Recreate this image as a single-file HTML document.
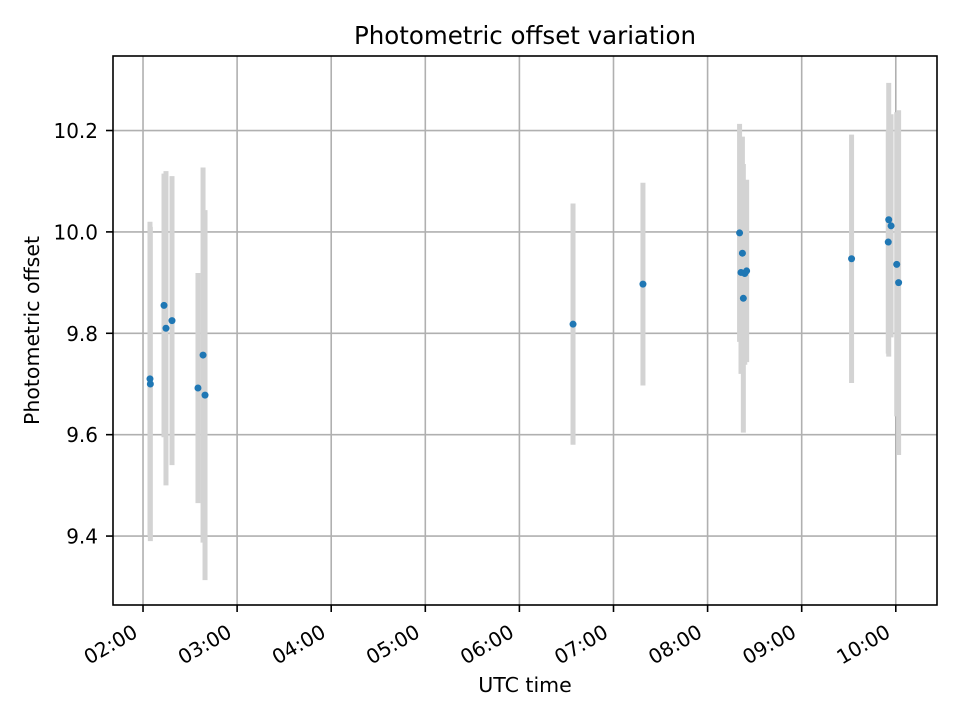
<!DOCTYPE html>
<html><head><meta charset="utf-8"><style>
body{margin:0;background:#fff;font-family:"DejaVu Sans","Liberation Sans",sans-serif}
svg text{font-family:"DejaVu Sans","Liberation Sans",sans-serif}
</style></head><body>
<svg id="c" width="960" height="720" xmlns="http://www.w3.org/2000/svg"></svg>
<script>
const times=[2.074,2.078,2.223,2.244,2.308,2.584,2.638,2.659,6.57,7.313,8.34,8.37,8.355,8.395,8.415,8.38,9.53,9.925,9.95,9.92,10.01,10.03];
const values=[9.710,9.700,9.855,9.810,9.825,9.692,9.757,9.678,9.818,9.897,9.998,9.958,9.920,9.918,9.923,9.869,9.947,10.024,10.012,9.980,9.936,9.900];
const errors=[0.31,0.31,0.26,0.31,0.285,0.227,0.37,0.365,0.238,0.2,0.215,0.23,0.2,0.18,0.18,0.265,0.245,0.27,0.22,0.22,0.3,0.34];
const xTicks=[2,3,4,5,6,7,8,9,10];
const xTickLabels=["02:00","03:00","04:00","05:00","06:00","07:00","08:00","09:00","10:00"];
const yTicks=[9.4,9.6,9.8,10.0,10.2];
const yTickLabels=["9.4","9.6","9.8","10.0","10.2"];

const L=113,R=937,T=56,B=605,x0=1.681,x1=10.438,y0=9.264,y1=10.347;
const X=v=>L+(v-x0)/(x1-x0)*(R-L);
const Y=v=>B-(v-y0)/(y1-y0)*(B-T);
const svg=document.getElementById('c');
const NS='http://www.w3.org/2000/svg';
function mk(tag,attrs,parent){const e=document.createElementNS(NS,tag);for(const k in attrs)e.setAttribute(k,attrs[k]);(parent||svg).appendChild(e);return e;}

xTicks.forEach((t,i)=>{
  const g=mk('line',{x1:X(t),x2:X(t),y1:T,y2:B,stroke:'#b0b0b0','stroke-width':1.6});
  
  
  mk('line',{x1:X(t),x2:X(t),y1:B,y2:B+7,stroke:'#000','stroke-width':1.6});
  const px=X(t)-4, py=636;
  const tx=mk('text',{x:px,y:py,'font-size':20,'text-anchor':'end',transform:`rotate(-30 ${px} ${py})`});
  tx.textContent=xTickLabels[i];
  
  
});
yTicks.forEach((t,i)=>{
  const g=mk('line',{x1:L,x2:R,y1:Y(t),y2:Y(t),stroke:'#b0b0b0','stroke-width':1.6});
  
  
  mk('line',{x1:L-7,x2:L,y1:Y(t),y2:Y(t),stroke:'#000','stroke-width':1.6});
  const tx=mk('text',{x:L-15,y:Y(t)+7.5,'font-size':20,'text-anchor':'end'});
  tx.textContent=yTickLabels[i];
  
  
});
times.forEach((t,i)=>{
  const b=mk('line',{x1:X(t),x2:X(t),y1:Y(values[i]-errors[i]),y2:Y(values[i]+errors[i]),stroke:'#d3d3d3','stroke-width':5});
  
  
});
times.forEach((t,i)=>{
  const p=mk('circle',{cx:X(t),cy:Y(values[i]),r:3.5,fill:'#1f77b4'});
  
  
});
const fr=mk('rect',{x:L,y:T,width:R-L,height:B-T,fill:'none',stroke:'#000','stroke-width':1.6});


const ti=mk('text',{x:(L+R)/2,y:44,'font-size':24.5,'text-anchor':'middle'});ti.textContent='Photometric offset variation';


const xl=mk('text',{x:(L+R)/2,y:692,'font-size':20.5,'text-anchor':'middle'});xl.textContent='UTC time';


const yl=mk('text',{x:39,y:(T+B)/2,'font-size':20.5,'text-anchor':'middle',transform:`rotate(-90 39 ${(T+B)/2})`});yl.textContent='Photometric offset';


</script>
</body></html>
